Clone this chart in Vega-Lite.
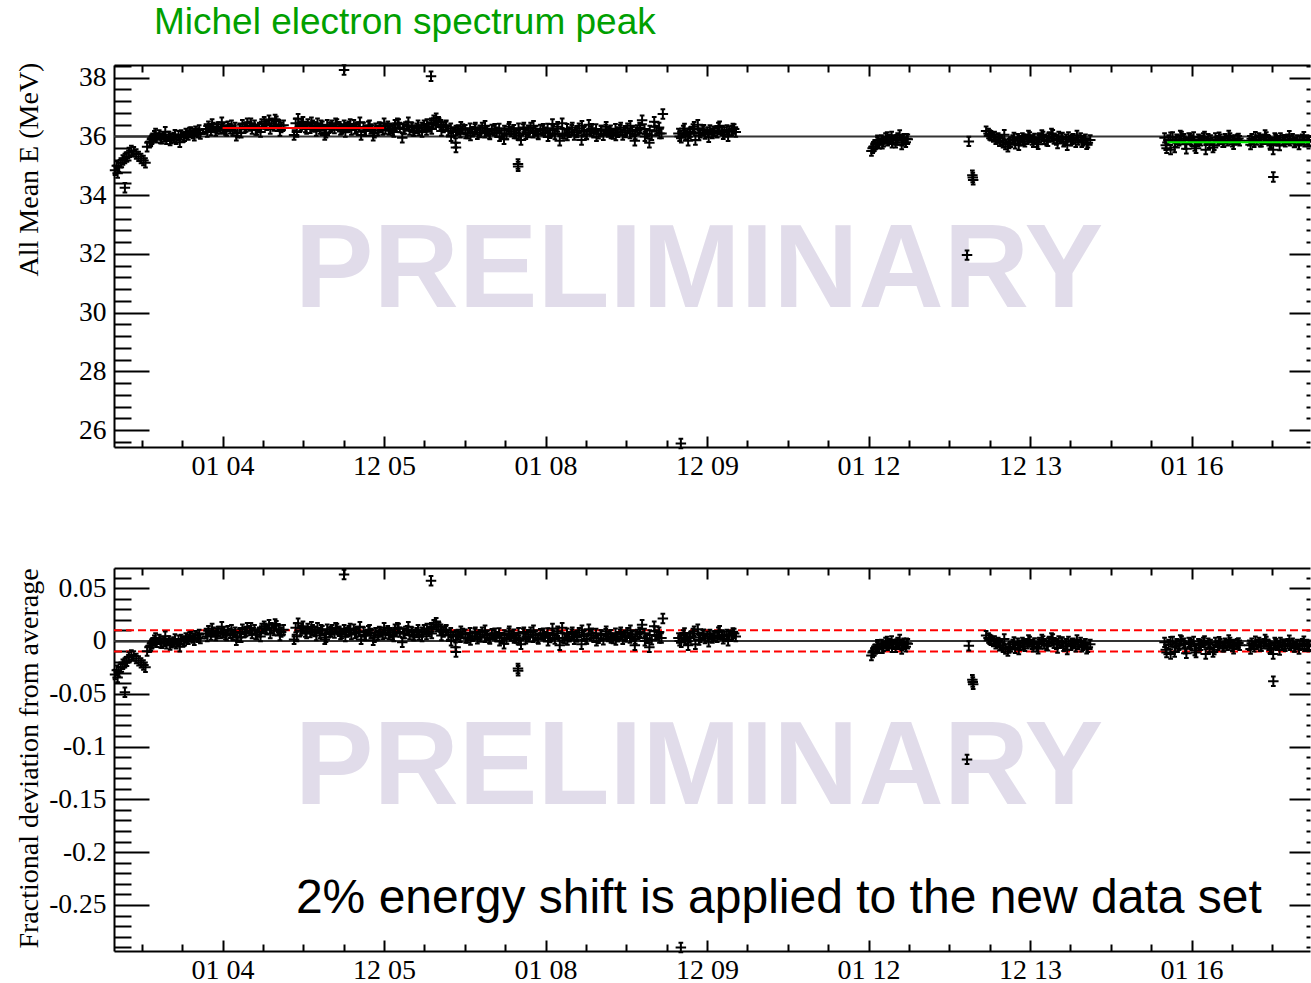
{
"$schema":"https://vega.github.io/schema/vega-lite/v6.json",
"background":"white",
"padding":{"left":14,"top":4,"right":0,"bottom":0},
"bounds":"flush",
"spacing":121,
"config":{"view":{"stroke":null},"axis":{"grid":false,"domainColor":"black","domainWidth":2,"tickColor":"black","tickWidth":2,"labelColor":"black","labelFont":"Liberation Serif","labelFontSize":27.5,"titleFont":"Liberation Serif","titleFontSize":28,"titleFontWeight":"normal","titleColor":"black","labelFlush":false,"labelOverlap":false}},
"datasets":{"pts":[
{"yr":2002.668,"e":34.85,"f":-0.0319},{"yr":2002.690,"e":35.00,"f":-0.0278},{"yr":2002.700,"e":34.75,"f":-0.0347},{"yr":2002.715,"e":34.95,"f":-0.0292},{"yr":2002.740,"e":35.10,"f":-0.0250},{"yr":2002.765,"e":35.20,"f":-0.0222},{"yr":2002.790,"e":35.25,"f":-0.0208},{"yr":2002.790,"e":34.25,"f":-0.0486},{"yr":2002.815,"e":35.30,"f":-0.0194},{"yr":2002.840,"e":35.45,"f":-0.0153},{"yr":2002.870,"e":35.52,"f":-0.0133},{"yr":2002.900,"e":35.48,"f":-0.0144},{"yr":2002.930,"e":35.40,"f":-0.0167},{"yr":2002.960,"e":35.32,"f":-0.0189},{"yr":2002.990,"e":35.25,"f":-0.0208},{"yr":2003.020,"e":35.18,"f":-0.0228},{"yr":2003.045,"e":35.10,"f":-0.0250},
{"yr":2003.065,"e":35.65,"f":-0.0097},{"yr":2003.095,"e":35.78,"f":-0.0061},{"yr":2003.125,"e":35.90,"f":-0.0028},{"yr":2003.155,"e":36.02,"f":0.0006},{"yr":2003.185,"e":35.95,"f":-0.0014},{"yr":2003.215,"e":36.05,"f":0.0014},{"yr":2003.245,"e":35.92,"f":-0.0022},{"yr":2003.275,"e":35.98,"f":-0.0006},{"yr":2003.305,"e":35.90,"f":-0.0028},{"yr":2003.335,"e":36.00,"f":0.0},{"yr":2003.365,"e":35.93,"f":-0.0019},{"yr":2003.395,"e":35.96,"f":-0.0011},{"yr":2003.425,"e":35.90,"f":-0.0028},{"yr":2003.455,"e":36.02,"f":0.0006},{"yr":2003.485,"e":36.05,"f":0.0014},{"yr":2003.515,"e":35.98,"f":-0.0006},{"yr":2003.545,"e":36.10,"f":0.0028},{"yr":2003.575,"e":36.05,"f":0.0014},{"yr":2003.605,"e":36.15,"f":0.0042},{"yr":2003.635,"e":36.10,"f":0.0028},{"yr":2003.665,"e":36.18,"f":0.0050},{"yr":2003.695,"e":36.12,"f":0.0033},{"yr":2003.725,"e":36.08,"f":0.0022},
{"yr":2003.11,"e":35.83,"f":-0.0047},{"yr":2003.17,"e":36.10,"f":0.0028},{"yr":2003.23,"e":35.93,"f":-0.0019},{"yr":2003.29,"e":36.16,"f":0.0044},{"yr":2003.35,"e":35.86,"f":-0.0039},{"yr":2003.41,"e":36.06,"f":0.0017},{"yr":2003.47,"e":35.80,"f":-0.0056},{"yr":2003.53,"e":36.00,"f":0.0},{"yr":2003.59,"e":36.13,"f":0.0036},{"yr":2003.65,"e":36.02,"f":0.0006},{"yr":2003.71,"e":36.22,"f":0.0061},
{"yr":2003.795,"e":36.25,"f":0.0069},{"yr":2003.825,"e":36.35,"f":0.0097},{"yr":2003.855,"e":36.20,"f":0.0056},{"yr":2003.885,"e":36.30,"f":0.0083},{"yr":2003.915,"e":36.18,"f":0.0050},{"yr":2003.945,"e":36.32,"f":0.0089},{"yr":2003.975,"e":36.25,"f":0.0069},{"yr":2004.005,"e":36.28,"f":0.0078},{"yr":2004.035,"e":36.22,"f":0.0061},{"yr":2004.065,"e":36.35,"f":0.0097},{"yr":2004.095,"e":36.26,"f":0.0072},{"yr":2004.125,"e":36.20,"f":0.0056},{"yr":2004.155,"e":36.30,"f":0.0083},{"yr":2004.170,"e":36.02,"f":0.0006},{"yr":2004.185,"e":36.12,"f":0.0033},{"yr":2004.215,"e":36.28,"f":0.0078},{"yr":2004.245,"e":36.40,"f":0.0111},{"yr":2004.275,"e":36.30,"f":0.0083},{"yr":2004.305,"e":36.45,"f":0.0125},{"yr":2004.335,"e":36.35,"f":0.0097},{"yr":2004.365,"e":36.25,"f":0.0069},{"yr":2004.395,"e":36.38,"f":0.0106},{"yr":2004.425,"e":36.22,"f":0.0061},{"yr":2004.455,"e":36.30,"f":0.0083},{"yr":2004.485,"e":36.42,"f":0.0117},{"yr":2004.515,"e":36.50,"f":0.0139},{"yr":2004.545,"e":36.38,"f":0.0106},{"yr":2004.575,"e":36.55,"f":0.0153},{"yr":2004.605,"e":36.45,"f":0.0125},{"yr":2004.635,"e":36.35,"f":0.0097},{"yr":2004.665,"e":36.52,"f":0.0144},{"yr":2004.695,"e":36.40,"f":0.0111},{"yr":2004.725,"e":36.30,"f":0.0083},{"yr":2004.755,"e":36.38,"f":0.0106},
{"yr":2003.81,"e":36.15,"f":0.0042},{"yr":2003.87,"e":36.42,"f":0.0117},{"yr":2003.93,"e":36.25,"f":0.0069},{"yr":2003.99,"e":36.48,"f":0.0133},{"yr":2004.05,"e":36.18,"f":0.0050},{"yr":2004.11,"e":36.38,"f":0.0106},{"yr":2004.23,"e":36.12,"f":0.0033},{"yr":2004.29,"e":36.32,"f":0.0089},{"yr":2004.35,"e":36.45,"f":0.0125},{"yr":2004.41,"e":36.22,"f":0.0061},{"yr":2004.47,"e":36.15,"f":0.0042},{"yr":2004.53,"e":36.42,"f":0.0117},{"yr":2004.59,"e":36.25,"f":0.0069},{"yr":2004.65,"e":36.58,"f":0.0161},{"yr":2004.71,"e":36.18,"f":0.0050},
{"yr":2004.885,"e":36.05,"f":0.0014},{"yr":2004.905,"e":36.45,"f":0.0125},{"yr":2004.935,"e":36.60,"f":0.0167},{"yr":2004.965,"e":36.35,"f":0.0097},{"yr":2004.995,"e":36.50,"f":0.0139},{"yr":2005.025,"e":36.30,"f":0.0083},{"yr":2005.055,"e":36.42,"f":0.0117},{"yr":2005.085,"e":36.28,"f":0.0078},{"yr":2005.115,"e":36.38,"f":0.0106},{"yr":2005.145,"e":36.32,"f":0.0089},{"yr":2005.175,"e":36.45,"f":0.0125},{"yr":2005.205,"e":36.25,"f":0.0069},{"yr":2005.235,"e":36.35,"f":0.0097},{"yr":2005.265,"e":36.05,"f":0.0014},{"yr":2005.295,"e":36.40,"f":0.0111},{"yr":2005.325,"e":36.30,"f":0.0083},{"yr":2005.355,"e":36.38,"f":0.0106},{"yr":2005.385,"e":36.27,"f":0.0075},{"yr":2005.415,"e":36.42,"f":0.0117},{"yr":2005.445,"e":36.33,"f":0.0092},{"yr":2005.475,"e":36.25,"f":0.0069},{"yr":2005.504,"e":38.26,"f":0.0628},{"yr":2005.505,"e":36.38,"f":0.0106},{"yr":2005.535,"e":36.30,"f":0.0083},{"yr":2005.565,"e":36.35,"f":0.0097},{"yr":2005.595,"e":36.22,"f":0.0061},{"yr":2005.625,"e":36.40,"f":0.0111},{"yr":2005.655,"e":36.28,"f":0.0078},{"yr":2005.685,"e":36.32,"f":0.0089},{"yr":2005.715,"e":36.05,"f":0.0014},{"yr":2005.745,"e":36.30,"f":0.0083},{"yr":2005.775,"e":36.18,"f":0.0050},{"yr":2005.805,"e":36.35,"f":0.0097},{"yr":2005.835,"e":36.25,"f":0.0069},{"yr":2005.865,"e":36.02,"f":0.0006},{"yr":2005.895,"e":36.28,"f":0.0078},{"yr":2005.925,"e":36.20,"f":0.0056},{"yr":2005.955,"e":36.30,"f":0.0083},{"yr":2005.985,"e":36.22,"f":0.0061},{"yr":2006.015,"e":36.25,"f":0.0069},{"yr":2006.045,"e":36.35,"f":0.0097},{"yr":2006.075,"e":36.28,"f":0.0078},{"yr":2006.105,"e":36.20,"f":0.0056},{"yr":2006.135,"e":36.40,"f":0.0111},{"yr":2006.165,"e":36.45,"f":0.0125},{"yr":2006.195,"e":36.30,"f":0.0083},{"yr":2006.225,"e":35.95,"f":-0.0014},{"yr":2006.255,"e":36.25,"f":0.0069},{"yr":2006.285,"e":36.35,"f":0.0097},{"yr":2006.315,"e":36.22,"f":0.0061},{"yr":2006.345,"e":36.30,"f":0.0083},{"yr":2006.375,"e":36.18,"f":0.0050},{"yr":2006.405,"e":36.28,"f":0.0078},{"yr":2006.435,"e":36.20,"f":0.0056},
{"yr":2004.92,"e":36.15,"f":0.0042},{"yr":2004.98,"e":36.42,"f":0.0117},{"yr":2005.04,"e":36.25,"f":0.0069},{"yr":2005.10,"e":36.48,"f":0.0133},{"yr":2005.16,"e":36.18,"f":0.0050},{"yr":2005.22,"e":36.38,"f":0.0106},{"yr":2005.28,"e":36.12,"f":0.0033},{"yr":2005.34,"e":36.32,"f":0.0089},{"yr":2005.40,"e":36.45,"f":0.0125},{"yr":2005.46,"e":36.22,"f":0.0061},{"yr":2005.52,"e":36.15,"f":0.0042},{"yr":2005.58,"e":36.42,"f":0.0117},{"yr":2005.64,"e":36.25,"f":0.0069},{"yr":2005.70,"e":36.48,"f":0.0133},{"yr":2005.76,"e":36.18,"f":0.0050},{"yr":2005.82,"e":36.38,"f":0.0106},{"yr":2005.88,"e":36.12,"f":0.0033},{"yr":2005.94,"e":36.32,"f":0.0089},{"yr":2006.00,"e":36.45,"f":0.0125},{"yr":2006.06,"e":36.22,"f":0.0061},{"yr":2006.12,"e":36.15,"f":0.0042},{"yr":2006.18,"e":36.42,"f":0.0117},{"yr":2006.24,"e":36.25,"f":0.0069},{"yr":2006.30,"e":36.48,"f":0.0133},{"yr":2006.36,"e":36.18,"f":0.0050},{"yr":2006.42,"e":36.38,"f":0.0106},
{"yr":2006.465,"e":36.30,"f":0.0083},{"yr":2006.495,"e":36.38,"f":0.0106},{"yr":2006.525,"e":36.22,"f":0.0061},{"yr":2006.555,"e":36.32,"f":0.0089},{"yr":2006.581,"e":38.05,"f":0.0569},{"yr":2006.585,"e":36.45,"f":0.0125},{"yr":2006.615,"e":36.55,"f":0.0153},{"yr":2006.645,"e":36.62,"f":0.0172},{"yr":2006.675,"e":36.50,"f":0.0139},{"yr":2006.705,"e":36.40,"f":0.0111},{"yr":2006.735,"e":36.30,"f":0.0083},{"yr":2006.765,"e":36.35,"f":0.0097},{"yr":2006.795,"e":36.20,"f":0.0056},{"yr":2006.825,"e":36.28,"f":0.0078},{"yr":2006.855,"e":36.15,"f":0.0042},{"yr":2006.885,"e":35.78,"f":-0.0061},{"yr":2006.890,"e":35.62,"f":-0.0106},{"yr":2006.915,"e":36.22,"f":0.0061},{"yr":2006.945,"e":36.12,"f":0.0033},{"yr":2006.975,"e":36.25,"f":0.0069},
{"yr":2007.005,"e":36.23,"f":0.0064},{"yr":2007.035,"e":36.10,"f":0.0028},{"yr":2007.065,"e":36.28,"f":0.0078},{"yr":2007.095,"e":36.16,"f":0.0044},{"yr":2007.125,"e":36.25,"f":0.0069},{"yr":2007.155,"e":36.07,"f":0.0019},{"yr":2007.185,"e":36.21,"f":0.0058},{"yr":2007.215,"e":36.30,"f":0.0083},{"yr":2007.245,"e":36.12,"f":0.0033},{"yr":2007.275,"e":36.18,"f":0.0050},{"yr":2007.305,"e":36.09,"f":0.0025},{"yr":2007.335,"e":36.24,"f":0.0067},{"yr":2007.365,"e":36.20,"f":0.0056},{"yr":2007.395,"e":36.14,"f":0.0039},{"yr":2007.425,"e":36.27,"f":0.0075},{"yr":2007.455,"e":36.11,"f":0.0031},{"yr":2007.485,"e":35.90,"f":-0.0028},{"yr":2007.515,"e":36.06,"f":0.0017},{"yr":2007.545,"e":36.26,"f":0.0072},{"yr":2007.575,"e":36.17,"f":0.0047},{"yr":2007.605,"e":36.23,"f":0.0064},{"yr":2007.635,"e":36.10,"f":0.0028},{"yr":2007.658,"e":35.06,"f":-0.0261},{"yr":2007.660,"e":34.98,"f":-0.0283},{"yr":2007.665,"e":36.28,"f":0.0078},{"yr":2007.695,"e":35.88,"f":-0.0033},{"yr":2007.725,"e":36.25,"f":0.0069},{"yr":2007.755,"e":36.07,"f":0.0019},{"yr":2007.785,"e":36.21,"f":0.0058},{"yr":2007.815,"e":36.30,"f":0.0083},{"yr":2007.845,"e":36.12,"f":0.0033},{"yr":2007.875,"e":36.18,"f":0.0050},{"yr":2007.905,"e":36.09,"f":0.0025},{"yr":2007.935,"e":36.24,"f":0.0067},{"yr":2007.965,"e":36.20,"f":0.0056},{"yr":2007.995,"e":36.14,"f":0.0039},{"yr":2008.025,"e":36.27,"f":0.0075},{"yr":2008.055,"e":36.11,"f":0.0031},{"yr":2008.085,"e":36.42,"f":0.0117},{"yr":2008.115,"e":36.06,"f":0.0017},{"yr":2008.145,"e":36.26,"f":0.0072},{"yr":2008.175,"e":35.85,"f":-0.0042},{"yr":2008.205,"e":36.45,"f":0.0125},{"yr":2008.235,"e":36.08,"f":0.0022},{"yr":2008.265,"e":36.26,"f":0.0072},{"yr":2008.295,"e":36.14,"f":0.0039},{"yr":2008.325,"e":36.23,"f":0.0064},{"yr":2008.355,"e":36.05,"f":0.0014},{"yr":2008.385,"e":36.19,"f":0.0053},{"yr":2008.415,"e":36.28,"f":0.0078},{"yr":2008.445,"e":35.88,"f":-0.0033},{"yr":2008.475,"e":36.16,"f":0.0044},{"yr":2008.505,"e":36.07,"f":0.0019},{"yr":2008.535,"e":36.40,"f":0.0111},{"yr":2008.565,"e":36.18,"f":0.0050},{"yr":2008.595,"e":36.12,"f":0.0033},{"yr":2008.625,"e":36.25,"f":0.0069},{"yr":2008.655,"e":36.09,"f":0.0025},{"yr":2008.685,"e":36.20,"f":0.0056},{"yr":2008.715,"e":36.04,"f":0.0011},{"yr":2008.745,"e":36.24,"f":0.0067},{"yr":2008.775,"e":36.15,"f":0.0042},{"yr":2008.805,"e":36.21,"f":0.0058},{"yr":2008.835,"e":36.08,"f":0.0022},{"yr":2008.865,"e":36.26,"f":0.0072},{"yr":2008.895,"e":36.14,"f":0.0039},{"yr":2008.925,"e":36.23,"f":0.0064},{"yr":2008.955,"e":36.05,"f":0.0014},{"yr":2008.985,"e":36.19,"f":0.0053},{"yr":2009.015,"e":36.28,"f":0.0078},{"yr":2009.045,"e":36.10,"f":0.0028},{"yr":2009.075,"e":36.16,"f":0.0044},{"yr":2009.105,"e":35.85,"f":-0.0042},{"yr":2009.135,"e":36.22,"f":0.0061},{"yr":2009.165,"e":36.30,"f":0.0083},{"yr":2009.195,"e":36.55,"f":0.0153},{"yr":2009.225,"e":36.25,"f":0.0069},{"yr":2009.255,"e":36.09,"f":0.0025},{"yr":2009.285,"e":35.78,"f":-0.0061},{"yr":2009.315,"e":36.04,"f":0.0011},{"yr":2009.345,"e":36.50,"f":0.0139},{"yr":2009.375,"e":36.20,"f":0.0056},{"yr":2009.405,"e":36.30,"f":0.0083},{"yr":2009.435,"e":36.10,"f":0.0028},{"yr":2009.452,"e":36.76,"f":0.0211},{"yr":2009.675,"e":25.55,"f":-0.2903},
{"yr":2006.47,"e":36.15,"f":0.0042},{"yr":2006.53,"e":36.42,"f":0.0117},{"yr":2006.59,"e":36.25,"f":0.0069},{"yr":2006.65,"e":36.48,"f":0.0133},{"yr":2006.71,"e":36.18,"f":0.0050},{"yr":2006.77,"e":36.38,"f":0.0106},{"yr":2006.83,"e":36.00,"f":0.0},{"yr":2006.89,"e":36.20,"f":0.0056},{"yr":2006.95,"e":36.33,"f":0.0092},{"yr":2007.01,"e":36.10,"f":0.0028},{"yr":2007.07,"e":36.03,"f":0.0008},{"yr":2007.13,"e":36.30,"f":0.0083},{"yr":2007.19,"e":36.13,"f":0.0036},{"yr":2007.25,"e":36.36,"f":0.0100},{"yr":2007.31,"e":36.06,"f":0.0017},{"yr":2007.37,"e":36.26,"f":0.0072},{"yr":2007.43,"e":36.00,"f":0.0},{"yr":2007.49,"e":36.20,"f":0.0056},{"yr":2007.55,"e":36.33,"f":0.0092},{"yr":2007.61,"e":36.10,"f":0.0028},{"yr":2007.67,"e":36.03,"f":0.0008},{"yr":2007.73,"e":36.30,"f":0.0083},{"yr":2007.79,"e":36.13,"f":0.0036},{"yr":2007.85,"e":36.36,"f":0.0100},{"yr":2007.91,"e":36.06,"f":0.0017},{"yr":2007.97,"e":36.26,"f":0.0072},{"yr":2008.03,"e":36.00,"f":0.0},{"yr":2008.09,"e":36.20,"f":0.0056},{"yr":2008.15,"e":36.33,"f":0.0092},{"yr":2008.21,"e":36.10,"f":0.0028},{"yr":2008.27,"e":36.03,"f":0.0008},{"yr":2008.33,"e":36.30,"f":0.0083},{"yr":2008.39,"e":36.13,"f":0.0036},{"yr":2008.45,"e":36.36,"f":0.0100},{"yr":2008.51,"e":36.06,"f":0.0017},{"yr":2008.57,"e":36.26,"f":0.0072},{"yr":2008.63,"e":36.00,"f":0.0},{"yr":2008.69,"e":36.20,"f":0.0056},{"yr":2008.75,"e":36.33,"f":0.0092},{"yr":2008.81,"e":36.10,"f":0.0028},{"yr":2008.87,"e":36.03,"f":0.0008},{"yr":2008.93,"e":36.30,"f":0.0083},{"yr":2008.99,"e":36.13,"f":0.0036},{"yr":2009.05,"e":36.36,"f":0.0100},{"yr":2009.11,"e":36.06,"f":0.0017},{"yr":2009.17,"e":36.26,"f":0.0072},{"yr":2009.23,"e":36.00,"f":0.0},{"yr":2009.29,"e":36.20,"f":0.0056},{"yr":2009.35,"e":36.33,"f":0.0092},{"yr":2009.41,"e":36.10,"f":0.0028},
{"yr":2009.645,"e":36.10,"f":0.0028},{"yr":2009.680,"e":35.95,"f":-0.0014},{"yr":2009.705,"e":36.20,"f":0.0056},{"yr":2009.735,"e":36.05,"f":0.0014},{"yr":2009.765,"e":35.85,"f":-0.0042},{"yr":2009.795,"e":36.15,"f":0.0042},{"yr":2009.825,"e":36.25,"f":0.0069},{"yr":2009.855,"e":35.88,"f":-0.0033},{"yr":2009.885,"e":36.40,"f":0.0111},{"yr":2009.915,"e":36.12,"f":0.0033},{"yr":2009.945,"e":36.20,"f":0.0056},{"yr":2009.975,"e":36.08,"f":0.0022},{"yr":2010.005,"e":36.15,"f":0.0042},{"yr":2010.035,"e":36.22,"f":0.0061},{"yr":2010.065,"e":36.10,"f":0.0028},{"yr":2010.095,"e":36.18,"f":0.0050},{"yr":2010.125,"e":36.12,"f":0.0033},{"yr":2010.155,"e":36.35,"f":0.0097},{"yr":2010.185,"e":36.20,"f":0.0056},{"yr":2010.215,"e":36.15,"f":0.0042},{"yr":2010.245,"e":36.22,"f":0.0061},{"yr":2010.275,"e":36.18,"f":0.0050},{"yr":2010.305,"e":36.20,"f":0.0056},{"yr":2010.335,"e":36.25,"f":0.0069},{"yr":2010.355,"e":36.15,"f":0.0042},
{"yr":2009.66,"e":36.00,"f":0.0},{"yr":2009.72,"e":36.27,"f":0.0075},{"yr":2009.78,"e":36.10,"f":0.0028},{"yr":2009.84,"e":36.33,"f":0.0092},{"yr":2009.90,"e":36.03,"f":0.0008},{"yr":2009.96,"e":36.23,"f":0.0064},{"yr":2010.02,"e":35.97,"f":-0.0008},{"yr":2010.08,"e":36.17,"f":0.0047},{"yr":2010.14,"e":36.30,"f":0.0083},{"yr":2010.20,"e":36.07,"f":0.0019},{"yr":2010.26,"e":36.00,"f":0.0},{"yr":2010.32,"e":36.27,"f":0.0075},
{"yr":2012.035,"e":35.50,"f":-0.0139},{"yr":2012.060,"e":35.65,"f":-0.0097},{"yr":2012.085,"e":35.72,"f":-0.0078},{"yr":2012.110,"e":35.80,"f":-0.0056},{"yr":2012.135,"e":35.75,"f":-0.0069},{"yr":2012.160,"e":35.88,"f":-0.0033},{"yr":2012.185,"e":35.82,"f":-0.0050},{"yr":2012.210,"e":35.95,"f":-0.0014},{"yr":2012.235,"e":35.85,"f":-0.0042},{"yr":2012.260,"e":35.90,"f":-0.0028},{"yr":2012.285,"e":36.00,"f":0.0},{"yr":2012.310,"e":35.88,"f":-0.0033},{"yr":2012.335,"e":35.78,"f":-0.0061},{"yr":2012.360,"e":35.95,"f":-0.0014},{"yr":2012.385,"e":36.05,"f":0.0014},{"yr":2012.410,"e":35.85,"f":-0.0042},{"yr":2012.435,"e":35.92,"f":-0.0022},{"yr":2012.460,"e":35.80,"f":-0.0056},{"yr":2012.485,"e":35.90,"f":-0.0028},
{"yr":2012.05,"e":35.60,"f":-0.0111},{"yr":2012.11,"e":35.87,"f":-0.0036},{"yr":2012.17,"e":35.75,"f":-0.0069},{"yr":2012.23,"e":35.98,"f":-0.0006},{"yr":2012.29,"e":35.78,"f":-0.0061},{"yr":2012.35,"e":35.88,"f":-0.0033},{"yr":2012.41,"e":35.72,"f":-0.0078},{"yr":2012.47,"e":35.92,"f":-0.0022},
{"yr":2013.219,"e":31.96,"f":-0.1122},{"yr":2013.241,"e":35.83,"f":-0.0047},{"yr":2013.285,"e":34.68,"f":-0.0367},{"yr":2013.290,"e":34.60,"f":-0.0389},{"yr":2013.295,"e":34.52,"f":-0.0411},
{"yr":2013.455,"e":36.18,"f":0.0050},{"yr":2013.485,"e":36.10,"f":0.0028},{"yr":2013.515,"e":36.02,"f":0.0006},{"yr":2013.545,"e":35.98,"f":-0.0006},{"yr":2013.575,"e":35.90,"f":-0.0028},{"yr":2013.605,"e":35.95,"f":-0.0014},{"yr":2013.635,"e":35.85,"f":-0.0042},{"yr":2013.665,"e":35.78,"f":-0.0061},{"yr":2013.695,"e":35.72,"f":-0.0078},{"yr":2013.725,"e":35.65,"f":-0.0097},{"yr":2013.755,"e":35.80,"f":-0.0056},{"yr":2013.785,"e":35.88,"f":-0.0033},{"yr":2013.815,"e":35.75,"f":-0.0069},{"yr":2013.845,"e":35.92,"f":-0.0022},{"yr":2013.875,"e":35.85,"f":-0.0042},{"yr":2013.905,"e":35.95,"f":-0.0014},{"yr":2013.935,"e":35.82,"f":-0.0050},{"yr":2013.965,"e":35.90,"f":-0.0028},{"yr":2013.995,"e":35.98,"f":-0.0006},{"yr":2014.025,"e":35.88,"f":-0.0033},{"yr":2014.055,"e":35.93,"f":-0.0019},{"yr":2014.085,"e":35.80,"f":-0.0056},{"yr":2014.115,"e":35.95,"f":-0.0014},{"yr":2014.145,"e":36.05,"f":0.0014},{"yr":2014.175,"e":35.90,"f":-0.0028},{"yr":2014.205,"e":35.85,"f":-0.0042},{"yr":2014.235,"e":35.98,"f":-0.0006},{"yr":2014.265,"e":36.10,"f":0.0028},{"yr":2014.295,"e":35.92,"f":-0.0022},{"yr":2014.325,"e":35.88,"f":-0.0033},{"yr":2014.355,"e":36.00,"f":0.0},{"yr":2014.385,"e":35.95,"f":-0.0014},{"yr":2014.415,"e":35.82,"f":-0.0050},{"yr":2014.445,"e":35.90,"f":-0.0028},{"yr":2014.475,"e":35.98,"f":-0.0006},{"yr":2014.505,"e":35.85,"f":-0.0042},{"yr":2014.535,"e":35.92,"f":-0.0022},{"yr":2014.565,"e":35.80,"f":-0.0056},{"yr":2014.595,"e":35.88,"f":-0.0033},{"yr":2014.625,"e":35.95,"f":-0.0014},{"yr":2014.655,"e":35.85,"f":-0.0042},{"yr":2014.685,"e":35.90,"f":-0.0028},{"yr":2014.715,"e":35.78,"f":-0.0061},{"yr":2014.745,"e":35.88,"f":-0.0033},
{"yr":2013.50,"e":36.05,"f":0.0014},{"yr":2013.56,"e":36.00,"f":0.0},{"yr":2013.62,"e":35.83,"f":-0.0047},{"yr":2013.68,"e":36.06,"f":0.0017},{"yr":2013.74,"e":35.76,"f":-0.0067},{"yr":2013.80,"e":35.96,"f":-0.0011},{"yr":2013.86,"e":35.70,"f":-0.0083},{"yr":2013.92,"e":35.90,"f":-0.0028},{"yr":2013.98,"e":36.03,"f":0.0008},{"yr":2014.04,"e":35.80,"f":-0.0056},{"yr":2014.10,"e":35.73,"f":-0.0075},{"yr":2014.16,"e":36.00,"f":0.0},{"yr":2014.22,"e":35.83,"f":-0.0047},{"yr":2014.28,"e":36.06,"f":0.0017},{"yr":2014.34,"e":35.76,"f":-0.0067},{"yr":2014.40,"e":35.96,"f":-0.0011},{"yr":2014.46,"e":35.70,"f":-0.0083},{"yr":2014.52,"e":35.90,"f":-0.0028},{"yr":2014.58,"e":36.03,"f":0.0008},{"yr":2014.64,"e":35.80,"f":-0.0056},{"yr":2014.70,"e":35.73,"f":-0.0075},
{"yr":2015.665,"e":35.95,"f":-0.0014},{"yr":2015.690,"e":35.60,"f":-0.0111},{"yr":2015.715,"e":35.88,"f":-0.0033},{"yr":2015.740,"e":35.55,"f":-0.0125},{"yr":2015.765,"e":35.98,"f":-0.0006},{"yr":2015.790,"e":35.62,"f":-0.0106},{"yr":2015.815,"e":35.90,"f":-0.0028},{"yr":2015.845,"e":35.85,"f":-0.0042},{"yr":2015.875,"e":36.00,"f":0.0},{"yr":2015.905,"e":35.92,"f":-0.0022},{"yr":2015.935,"e":35.58,"f":-0.0117},{"yr":2015.965,"e":35.95,"f":-0.0014},{"yr":2015.995,"e":35.88,"f":-0.0033},{"yr":2016.025,"e":35.98,"f":-0.0006},{"yr":2016.055,"e":35.60,"f":-0.0111},{"yr":2016.085,"e":35.90,"f":-0.0028},{"yr":2016.115,"e":35.85,"f":-0.0042},{"yr":2016.145,"e":35.95,"f":-0.0014},{"yr":2016.175,"e":35.55,"f":-0.0125},{"yr":2016.205,"e":35.92,"f":-0.0022},{"yr":2016.235,"e":35.88,"f":-0.0033},{"yr":2016.265,"e":35.62,"f":-0.0106},{"yr":2016.295,"e":35.95,"f":-0.0014},{"yr":2016.325,"e":35.85,"f":-0.0042},{"yr":2016.355,"e":35.90,"f":-0.0028},{"yr":2016.385,"e":35.80,"f":-0.0056},{"yr":2016.415,"e":35.92,"f":-0.0022},{"yr":2016.445,"e":35.85,"f":-0.0042},{"yr":2016.475,"e":35.95,"f":-0.0014},{"yr":2016.505,"e":35.82,"f":-0.0050},{"yr":2016.535,"e":35.88,"f":-0.0033},{"yr":2016.565,"e":35.90,"f":-0.0028},{"yr":2016.595,"e":35.85,"f":-0.0042},
{"yr":2015.68,"e":35.70,"f":-0.0083},{"yr":2015.74,"e":35.97,"f":-0.0008},{"yr":2015.80,"e":35.80,"f":-0.0056},{"yr":2015.86,"e":36.03,"f":0.0008},{"yr":2015.92,"e":35.73,"f":-0.0075},{"yr":2015.98,"e":35.93,"f":-0.0019},{"yr":2016.04,"e":35.67,"f":-0.0092},{"yr":2016.10,"e":35.87,"f":-0.0036},{"yr":2016.16,"e":36.00,"f":0.0},{"yr":2016.22,"e":35.77,"f":-0.0064},{"yr":2016.28,"e":35.70,"f":-0.0083},{"yr":2016.34,"e":35.97,"f":-0.0008},{"yr":2016.40,"e":35.80,"f":-0.0056},{"yr":2016.46,"e":36.03,"f":0.0008},{"yr":2016.52,"e":35.73,"f":-0.0075},{"yr":2016.58,"e":35.93,"f":-0.0019},
{"yr":2016.715,"e":35.85,"f":-0.0042},{"yr":2016.745,"e":35.92,"f":-0.0022},{"yr":2016.775,"e":35.80,"f":-0.0056},{"yr":2016.805,"e":35.88,"f":-0.0033},{"yr":2016.835,"e":35.95,"f":-0.0014},{"yr":2016.865,"e":35.82,"f":-0.0050},{"yr":2016.895,"e":35.90,"f":-0.0028},{"yr":2016.925,"e":35.98,"f":-0.0006},{"yr":2016.955,"e":35.85,"f":-0.0042},{"yr":2016.985,"e":35.75,"f":-0.0069},{"yr":2017.010,"e":35.55,"f":-0.0125},{"yr":2017.012,"e":34.62,"f":-0.0383},{"yr":2017.040,"e":35.90,"f":-0.0028},{"yr":2017.070,"e":35.85,"f":-0.0042},{"yr":2017.100,"e":35.95,"f":-0.0014},{"yr":2017.130,"e":35.88,"f":-0.0033},{"yr":2017.160,"e":35.82,"f":-0.0050},{"yr":2017.190,"e":35.90,"f":-0.0028},{"yr":2017.220,"e":35.85,"f":-0.0042},{"yr":2017.250,"e":35.92,"f":-0.0022},{"yr":2017.280,"e":35.80,"f":-0.0056},{"yr":2017.310,"e":35.88,"f":-0.0033},{"yr":2017.340,"e":35.85,"f":-0.0042},{"yr":2017.370,"e":35.90,"f":-0.0028},{"yr":2017.400,"e":35.82,"f":-0.0050},{"yr":2017.430,"e":35.88,"f":-0.0033},{"yr":2017.455,"e":35.85,"f":-0.0042},
{"yr":2016.73,"e":35.72,"f":-0.0078},{"yr":2016.79,"e":35.99,"f":-0.0003},{"yr":2016.85,"e":35.82,"f":-0.0050},{"yr":2016.91,"e":36.05,"f":0.0014},{"yr":2016.97,"e":35.75,"f":-0.0069},{"yr":2017.03,"e":35.95,"f":-0.0014},{"yr":2017.09,"e":35.69,"f":-0.0086},{"yr":2017.15,"e":35.89,"f":-0.0031},{"yr":2017.21,"e":36.02,"f":0.0006},{"yr":2017.27,"e":35.79,"f":-0.0058},{"yr":2017.33,"e":35.72,"f":-0.0078},{"yr":2017.39,"e":35.99,"f":-0.0003},{"yr":2017.45,"e":35.82,"f":-0.0050}
]},
"vconcat":[
{
"width":1196,"height":382,
"title":{"text":"Michel electron spectrum peak","anchor":"start","frame":"group","dx":40,"offset":-10,"baseline":"alphabetic","font":"Liberation Sans","fontSize":37,"fontWeight":"normal","color":"#00a000"},
"resolve":{"axis":{"x":"independent","y":"independent"}},
"layer":[
{"data":{"values":[{}]},
 "mark":{"type":"text","text":"PRELIMINARY","font":"Liberation Sans","fontWeight":"bold","fontSize":118,"color":"#e1dcea","align":"center","baseline":"alphabetic"},
 "encoding":{
  "x":{"datum":2009.90,"type":"quantitative","scale":{"domain":[2002.6551,2017.4662],"nice":false,"zero":false},
       "axis":{"orient":"bottom","values":[2004,2006,2008,2010,2012,2014,2016],"labelExpr":"datum.value==2004?'01 04':datum.value==2006?'12 05':datum.value==2008?'01 08':datum.value==2010?'12 09':datum.value==2012?'01 12':datum.value==2014?'12 13':'01 16'","labelFontSize":28,"tickSize":-11,"labelPadding":16.5,"domain":true,"title":null}},
  "y":{"datum":30.19,"type":"quantitative","scale":{"domain":[25.43,38.43],"nice":false,"zero":false},
       "axis":{"orient":"left","values":[26,28,30,32,34,36,38],"format":"d","tickSize":-35,"labelPadding":43,"domain":true,"title":"All Mean E (MeV)","titleAngle":-90,"titleX":-77,"titleY":104,"titleAlign":"center","titleBaseline":"alphabetic"}}
 }},
{"data":{"values":[{}]},
 "mark":{"type":"rule","color":"#333333","strokeWidth":2},
 "encoding":{
  "x":{"datum":2002.6551,"type":"quantitative","scale":{"domain":[2002.6551,2017.4662],"nice":false,"zero":false},
       "axis":{"orient":"bottom","values":[2003,2003.5,2004.5,2005,2005.5,2006.5,2007,2007.5,2008.5,2009,2009.5,2010.5,2011,2011.5,2012.5,2013,2013.5,2014.5,2015,2015.5,2016.5,2017],"tickSize":-7,"labels":false,"domain":false,"title":null}},
  "x2":{"datum":2017.4662},
  "y":{"datum":36,"type":"quantitative","scale":{"domain":[25.43,38.43],"nice":false,"zero":false},
       "axis":{"orient":"left","values":[25.6,26.4,26.8,27.2,27.6,28.4,28.8,29.2,29.6,30.4,30.8,31.2,31.6,32.4,32.8,33.2,33.6,34.4,34.8,35.2,35.6,36.4,36.8,37.2,37.6,38.4],"tickSize":-17,"labels":false,"domain":false,"title":null}}
 }},
{"data":{"name":"pts"},
 "mark":{"type":"point","shape":"M-1,0L1,0M0,-0.9L0,0.9M-0.45,-0.9L0.45,-0.9M-0.45,0.9L0.45,0.9","filled":false,"stroke":"black","strokeWidth":2,"size":110,"opacity":1},
 "encoding":{
  "x":{"field":"yr","type":"quantitative","scale":{"domain":[2002.6551,2017.4662],"nice":false,"zero":false},"axis":null},
  "y":{"field":"e","type":"quantitative","scale":{"domain":[25.43,38.43],"nice":false,"zero":false},"axis":null}
 }},
{"data":{"values":[{"start":2004.0,"end":2006.0,"e":36.29}]},
 "mark":{"type":"rule","color":"#ff0000","strokeWidth":2},
 "encoding":{
  "x":{"field":"start","type":"quantitative","scale":{"domain":[2002.6551,2017.4662],"nice":false,"zero":false},
       "axis":{"orient":"top","values":[2004,2006,2008,2010,2012,2014,2016],"tickSize":-11,"labels":false,"domain":true,"title":null}},
  "x2":{"field":"end"},
  "y":{"field":"e","type":"quantitative","scale":{"domain":[25.43,38.43],"nice":false,"zero":false},
       "axis":{"orient":"right","values":[26,28,30,32,34,36,38],"tickSize":-21,"labels":false,"domain":false,"title":null}}
 }},
{"data":{"values":[{"start":2015.70,"end":2017.4662,"e":35.80}]},
 "mark":{"type":"rule","color":"#00ee00","strokeWidth":2},
 "encoding":{
  "x":{"field":"start","type":"quantitative","scale":{"domain":[2002.6551,2017.4662],"nice":false,"zero":false},
       "axis":{"orient":"top","values":[2003,2003.5,2004.5,2005,2005.5,2006.5,2007,2007.5,2008.5,2009,2009.5,2010.5,2011,2011.5,2012.5,2013,2013.5,2014.5,2015,2015.5,2016.5,2017],"tickSize":-7,"labels":false,"domain":false,"title":null}},
  "x2":{"field":"end"},
  "y":{"field":"e","type":"quantitative","scale":{"domain":[25.43,38.43],"nice":false,"zero":false},
       "axis":{"orient":"right","values":[25.6,26.4,26.8,27.2,27.6,28.4,28.8,29.2,29.6,30.4,30.8,31.2,31.6,32.4,32.8,33.2,33.6,34.4,34.8,35.2,35.6,36.4,36.8,37.2,37.6,38.4],"tickSize":-4,"labels":false,"domain":false,"title":null}}
 }}
]
},
{
"width":1196,"height":383,
"resolve":{"axis":{"x":"independent","y":"independent"}},
"layer":[
{"data":{"values":[{}]},
 "mark":{"type":"text","text":"PRELIMINARY","font":"Liberation Sans","fontWeight":"bold","fontSize":118,"color":"#e1dcea","align":"center","baseline":"alphabetic"},
 "encoding":{
  "x":{"datum":2009.90,"type":"quantitative","scale":{"domain":[2002.6551,2017.4662],"nice":false,"zero":false},
       "axis":{"orient":"bottom","values":[2004,2006,2008,2010,2012,2014,2016],"labelExpr":"datum.value==2004?'01 04':datum.value==2006?'12 05':datum.value==2008?'01 08':datum.value==2010?'12 09':datum.value==2012?'01 12':datum.value==2014?'12 13':'01 16'","labelFontSize":28,"tickSize":-11,"labelPadding":16.5,"domain":true,"title":null}},
  "y":{"datum":-0.1542,"type":"quantitative","scale":{"domain":[-0.2936,0.069],"nice":false,"zero":false},
       "axis":{"orient":"left","values":[-0.25,-0.2,-0.15,-0.1,-0.05,0,0.05],"labelExpr":"datum.value==0?'0':(datum.value<0?'-':'')+format(abs(datum.value),'~g')","tickSize":-35,"labelPadding":43,"domain":true,"title":"Fractional deviation from average","titleAngle":-90,"titleX":-77,"titleY":190,"titleAlign":"center","titleBaseline":"alphabetic"}}
 }},
{"data":{"values":[{}]},
 "mark":{"type":"rule","color":"#333333","strokeWidth":2},
 "encoding":{
  "x":{"datum":2002.6551,"type":"quantitative","scale":{"domain":[2002.6551,2017.4662],"nice":false,"zero":false},
       "axis":{"orient":"bottom","values":[2003,2003.5,2004.5,2005,2005.5,2006.5,2007,2007.5,2008.5,2009,2009.5,2010.5,2011,2011.5,2012.5,2013,2013.5,2014.5,2015,2015.5,2016.5,2017],"tickSize":-7,"labels":false,"domain":false,"title":null}},
  "x2":{"datum":2017.4662},
  "y":{"datum":0,"type":"quantitative","scale":{"domain":[-0.2936,0.069],"nice":false,"zero":false},
       "axis":{"orient":"left","values":[-0.29,-0.28,-0.27,-0.26,-0.24,-0.23,-0.22,-0.21,-0.19,-0.18,-0.17,-0.16,-0.14,-0.13,-0.12,-0.11,-0.09,-0.08,-0.07,-0.06,-0.04,-0.03,-0.02,-0.01,0.01,0.02,0.03,0.04,0.06],"tickSize":-17,"labels":false,"domain":false,"title":null}}
 }},
{"data":{"values":[{}]},
 "mark":{"type":"rule","color":"#ff0000","strokeWidth":2,"strokeDash":[8,4]},
 "encoding":{
  "x":{"datum":2002.6551,"type":"quantitative","scale":{"domain":[2002.6551,2017.4662],"nice":false,"zero":false},
       "axis":{"orient":"top","values":[2004,2006,2008,2010,2012,2014,2016],"tickSize":-11,"labels":false,"domain":true,"title":null}},
  "x2":{"datum":2017.4662},
  "y":{"datum":0.01,"type":"quantitative","scale":{"domain":[-0.2936,0.069],"nice":false,"zero":false},
       "axis":{"orient":"right","values":[-0.25,-0.2,-0.15,-0.1,-0.05,0,0.05],"tickSize":-21,"labels":false,"domain":false,"title":null}}
 }},
{"data":{"values":[{}]},
 "mark":{"type":"rule","color":"#ff0000","strokeWidth":2,"strokeDash":[8,4]},
 "encoding":{
  "x":{"datum":2002.6551,"type":"quantitative","scale":{"domain":[2002.6551,2017.4662],"nice":false,"zero":false},
       "axis":{"orient":"top","values":[2003,2003.5,2004.5,2005,2005.5,2006.5,2007,2007.5,2008.5,2009,2009.5,2010.5,2011,2011.5,2012.5,2013,2013.5,2014.5,2015,2015.5,2016.5,2017],"tickSize":-7,"labels":false,"domain":false,"title":null}},
  "x2":{"datum":2017.4662},
  "y":{"datum":-0.01,"type":"quantitative","scale":{"domain":[-0.2936,0.069],"nice":false,"zero":false},
       "axis":{"orient":"right","values":[-0.29,-0.28,-0.27,-0.26,-0.24,-0.23,-0.22,-0.21,-0.19,-0.18,-0.17,-0.16,-0.14,-0.13,-0.12,-0.11,-0.09,-0.08,-0.07,-0.06,-0.04,-0.03,-0.02,-0.01,0.01,0.02,0.03,0.04,0.06],"tickSize":-4,"labels":false,"domain":false,"title":null}}
 }},
{"data":{"values":[{}]},
 "mark":{"type":"text","text":"2% energy shift is applied to the new data set","font":"Liberation Sans","fontSize":48,"color":"black","align":"center","baseline":"alphabetic"},
 "encoding":{
  "x":{"datum":2010.889,"type":"quantitative","scale":{"domain":[2002.6551,2017.4662],"nice":false,"zero":false},"axis":null},
  "y":{"datum":-0.2578,"type":"quantitative","scale":{"domain":[-0.2936,0.069],"nice":false,"zero":false},"axis":null}
 }},
{"data":{"name":"pts"},
 "mark":{"type":"point","shape":"M-1,0L1,0M0,-0.9L0,0.9M-0.45,-0.9L0.45,-0.9M-0.45,0.9L0.45,0.9","filled":false,"stroke":"black","strokeWidth":2,"size":110,"opacity":1},
 "encoding":{
  "x":{"field":"yr","type":"quantitative","scale":{"domain":[2002.6551,2017.4662],"nice":false,"zero":false},"axis":null},
  "y":{"field":"f","type":"quantitative","scale":{"domain":[-0.2936,0.069],"nice":false,"zero":false},"axis":null}
 }}
]
}
]
}
